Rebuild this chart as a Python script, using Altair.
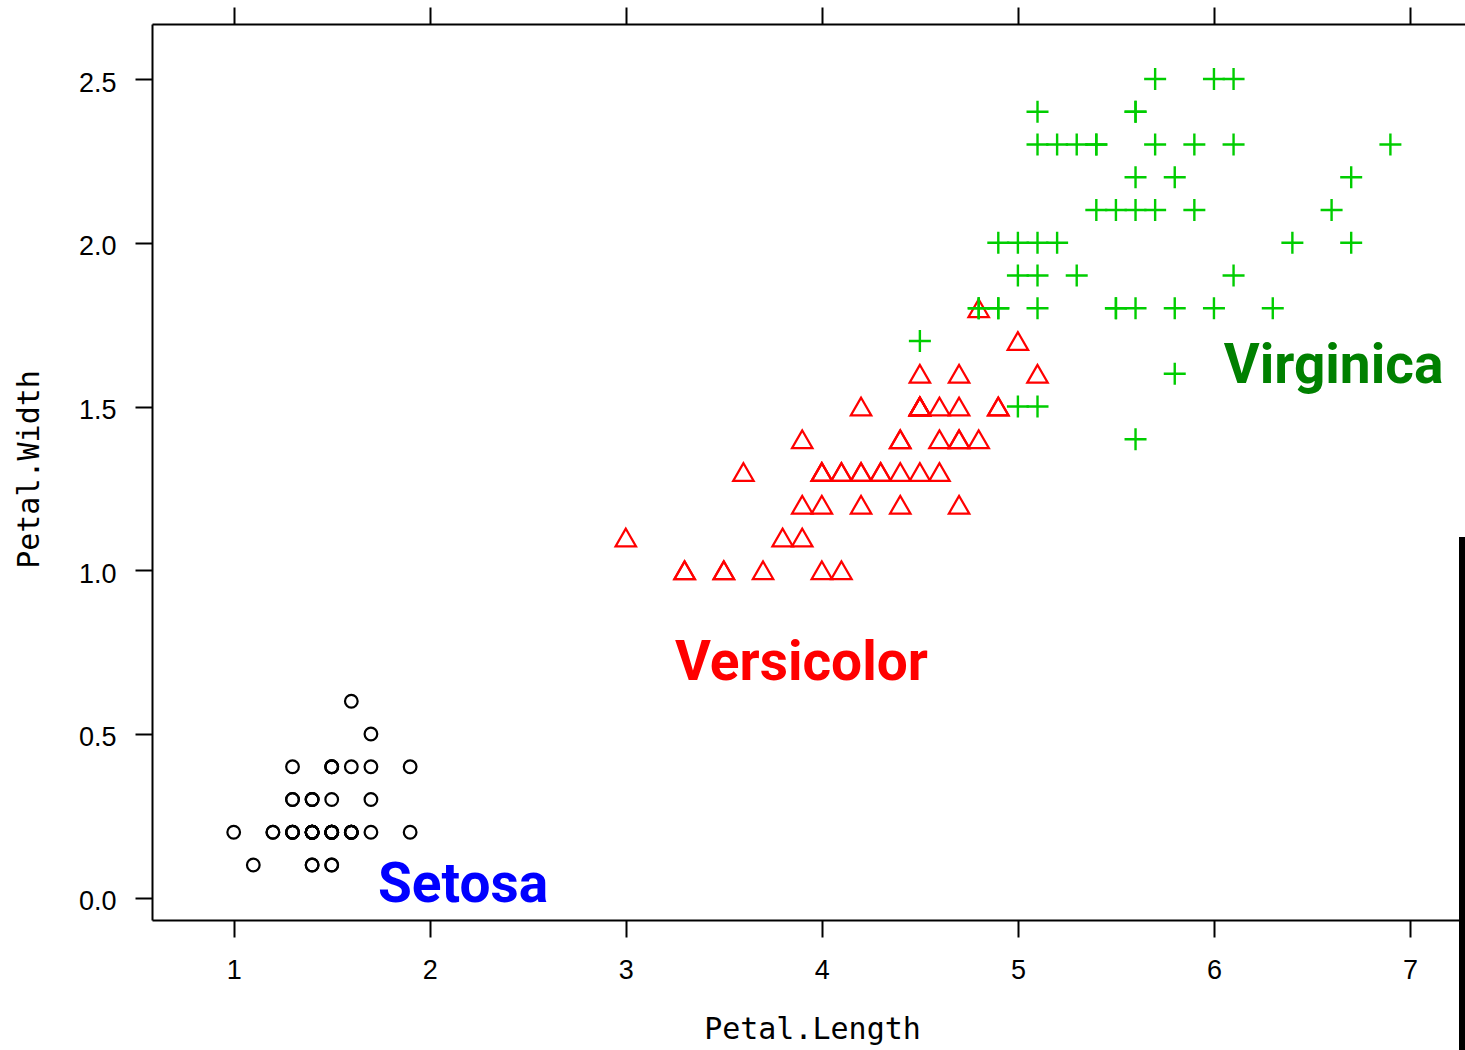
import altair as alt
import pandas as pd

# Edgar Anderson's iris measurements: petal length / petal width per species
setosa_length = [1.4, 1.4, 1.3, 1.5, 1.4, 1.7, 1.4, 1.5, 1.4, 1.5,
                 1.5, 1.6, 1.4, 1.1, 1.2, 1.5, 1.3, 1.4, 1.7, 1.5,
                 1.7, 1.5, 1.0, 1.7, 1.9, 1.6, 1.6, 1.5, 1.4, 1.6,
                 1.6, 1.5, 1.5, 1.4, 1.5, 1.2, 1.3, 1.4, 1.3, 1.5,
                 1.3, 1.3, 1.3, 1.6, 1.9, 1.4, 1.6, 1.4, 1.5, 1.4]
setosa_width = [0.2, 0.2, 0.2, 0.2, 0.2, 0.4, 0.3, 0.2, 0.2, 0.1,
                0.2, 0.2, 0.1, 0.1, 0.2, 0.4, 0.4, 0.3, 0.3, 0.3,
                0.2, 0.4, 0.2, 0.5, 0.2, 0.2, 0.4, 0.2, 0.2, 0.2,
                0.2, 0.4, 0.1, 0.2, 0.2, 0.2, 0.2, 0.1, 0.2, 0.2,
                0.3, 0.3, 0.2, 0.6, 0.4, 0.3, 0.2, 0.2, 0.2, 0.2]

versicolor_length = [4.7, 4.5, 4.9, 4.0, 4.6, 4.5, 4.7, 3.3, 4.6, 3.9,
                     3.5, 4.2, 4.0, 4.7, 3.6, 4.4, 4.5, 4.1, 4.5, 3.9,
                     4.8, 4.0, 4.9, 4.7, 4.3, 4.4, 4.8, 5.0, 4.5, 3.5,
                     3.8, 3.7, 3.9, 5.1, 4.5, 4.5, 4.7, 4.4, 4.1, 4.0,
                     4.4, 4.6, 4.0, 3.3, 4.2, 4.2, 4.2, 4.3, 3.0, 4.1]
versicolor_width = [1.4, 1.5, 1.5, 1.3, 1.5, 1.3, 1.6, 1.0, 1.3, 1.4,
                    1.0, 1.5, 1.0, 1.4, 1.3, 1.4, 1.5, 1.0, 1.5, 1.1,
                    1.8, 1.3, 1.5, 1.2, 1.3, 1.4, 1.4, 1.7, 1.5, 1.0,
                    1.1, 1.0, 1.2, 1.6, 1.5, 1.6, 1.5, 1.3, 1.3, 1.3,
                    1.2, 1.4, 1.2, 1.0, 1.3, 1.2, 1.3, 1.3, 1.1, 1.3]

virginica_length = [6.0, 5.1, 5.9, 5.6, 5.8, 6.6, 4.5, 6.3, 5.8, 6.1,
                    5.1, 5.3, 5.5, 5.0, 5.1, 5.3, 5.5, 6.7, 6.9, 5.0,
                    5.7, 4.9, 6.7, 4.9, 5.7, 6.0, 4.8, 4.9, 5.6, 5.8,
                    6.1, 6.4, 5.6, 5.1, 5.6, 6.1, 5.6, 5.5, 4.8, 5.4,
                    5.6, 5.1, 5.9, 5.7, 5.2, 5.0, 5.2, 5.4, 5.1, 5.4]
virginica_width = [2.5, 1.9, 2.1, 1.8, 2.2, 2.1, 1.7, 1.8, 1.8, 2.5,
                   2.0, 1.9, 2.1, 2.0, 2.4, 2.3, 1.8, 2.2, 2.3, 1.5,
                   2.3, 2.0, 2.0, 1.8, 2.1, 1.8, 1.8, 1.8, 2.1, 1.6,
                   1.9, 2.0, 2.2, 1.5, 1.4, 2.3, 2.4, 1.8, 1.8, 2.1,
                   2.4, 2.3, 2.3, 2.5, 2.3, 1.9, 2.0, 2.3, 1.8, 2.3]

# In-panel species labels
label_text = ["Setosa", "Versicolor", "Virginica"]
label_x = [2.17, 3.896, 6.61]
label_y = [-0.013, 0.665, 1.572]
label_color = ["#0000FF", "#FF0000", "#008000"]

x_ticks = [1, 2, 3, 4, 5, 6, 7]
y_ticks = [0.0, 0.5, 1.0, 1.5, 2.0, 2.5]

setosa = pd.DataFrame({"petal_length": setosa_length, "petal_width": setosa_width})
versicolor = pd.DataFrame({"petal_length": versicolor_length, "petal_width": versicolor_width})
virginica = pd.DataFrame({"petal_length": virginica_length, "petal_width": virginica_width})
labels = pd.DataFrame({"text": label_text, "x": label_x, "y": label_y, "color": label_color})

x_scale = alt.Scale(domain=[0.5833, 7.2805], nice=False, zero=False)
y_scale = alt.Scale(domain=[-0.068, 2.668], nice=False, zero=False)

axis_style = dict(
    domainColor="black", domainWidth=2, tickColor="black", tickWidth=2,
    tickSize=17, grid=False, labelFont="Liberation Sans", labelFontSize=27,
    labelColor="black", titleFont="DejaVu Sans Mono", titleFontSize=30,
    titleFontWeight="normal", titleColor="black",
)

x_bottom = alt.Axis(
    orient="bottom", values=x_ticks, format="d", title="Petal.Length",
    labelPadding=20, labelBaseline="top", labelFlush=False,
    titleX=660, titleY=118, titleAlign="center", titleBaseline="alphabetic",
    **axis_style,
)
x_top = alt.Axis(
    orient="top", values=x_ticks, labels=False, title=None, **axis_style,
)
y_left = alt.Axis(
    orient="left", values=y_ticks, format=".1f", title="Petal.Width",
    labelPadding=19, labelBaseline="middle", labelOffset=4, labelFlush=False,
    titleAngle=270, titleX=-114, titleY=445, titleAlign="center",
    titleBaseline="alphabetic",
    **axis_style,
)

setosa_pts = alt.Chart(setosa).mark_point(
    shape="circle", filled=False, size=160, strokeWidth=2.2, color="black", opacity=1
).encode(
    x=alt.X("petal_length:Q", scale=x_scale, axis=x_bottom),
    y=alt.Y("petal_width:Q", scale=y_scale, axis=y_left),
)

versicolor_pts = alt.Chart(versicolor).mark_point(
    shape="triangle-up", filled=False, size=420, strokeWidth=2.2, color="#FF0000", opacity=1
).encode(
    x=alt.X("petal_length:Q", scale=x_scale, axis=x_top),
    y=alt.Y("petal_width:Q", scale=y_scale, axis=None),
)

virginica_pts = alt.Chart(virginica).mark_point(
    shape="M-1,0H1M0,-1V1", filled=False, size=484, strokeWidth=2.4,
    color="#00CD00", opacity=1
).encode(
    x=alt.X("petal_length:Q", scale=x_scale, axis=None),
    y=alt.Y("petal_width:Q", scale=y_scale, axis=None),
)

species_labels = alt.Chart(labels).mark_text(
    font="Roboto", fontSize=55, fontWeight="bold", align="center",
    baseline="alphabetic",
).encode(
    x=alt.X("x:Q", scale=x_scale, axis=None),
    y=alt.Y("y:Q", scale=y_scale, axis=None),
    text="text:N",
    color=alt.Color("color:N", scale=None),
)

# Heavy vertical bar along the right edge
edge_bar = alt.Chart(labels).mark_rule(color="black", strokeWidth=6).encode(
    x=alt.value(1310), y=alt.value(513), y2=alt.value(1026)
)

chart = alt.layer(
    setosa_pts, versicolor_pts, virginica_pts, species_labels, edge_bar
).resolve_axis(
    x="independent", y="independent"
).properties(
    width=1313,
    height=896,
    padding={"left": 152, "top": 24, "right": 0, "bottom": 130},
    autosize=alt.AutoSizeParams(type="none"),
    background="white",
).configure_view(stroke=None)

chart.save("out.html", embed_options={"renderer": "svg", "actions": False})
